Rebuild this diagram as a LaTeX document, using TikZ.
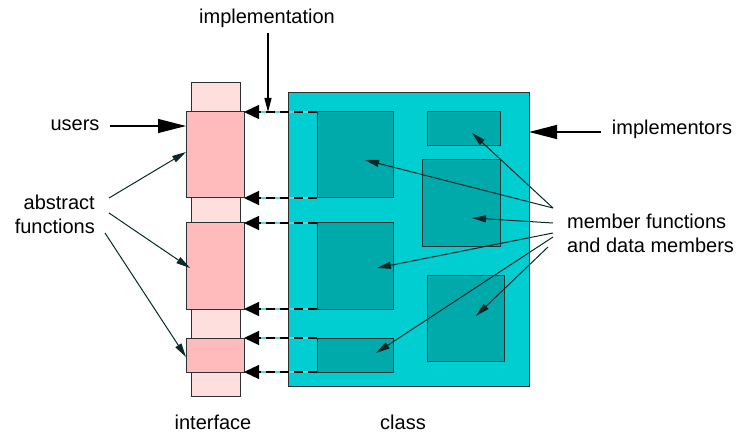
\documentclass[tikz,border=0pt]{standalone}
\usepackage{fontspec}
\setmainfont{Liberation Sans}
\usetikzlibrary{arrows.meta,calc}
\definecolor{stripcol}{RGB}{255,222,222}
\definecolor{pinkcol}{RGB}{255,187,187}
\definecolor{classcol}{RGB}{0,206,209}
\definecolor{innercol}{RGB}{0,170,170}
\definecolor{edgecol}{RGB}{40,50,50}
\definecolor{linecol}{RGB}{10,40,40}
\tikzset{
  box/.style={draw=edgecol,line width=1pt,inner sep=0pt,outer sep=0pt,anchor=north west},
  lbl/.style={font=\fontsize{20}{24}\selectfont,inner sep=0pt},
  dasharrow/.style={draw=black,line width=1.3pt,dash pattern=on 9pt off 5pt,-{Triangle[length=15pt,width=14pt]}},
  dashunder/.style={draw=classcol!70,line width=1.3pt},
  longarrow/.style={draw=black,line width=1.2pt,-{Triangle[length=28pt,width=14pt]}},
  thinarrow/.style={draw=linecol,line width=1pt,-{Triangle[length=14pt,width=7pt]}}
}
\begin{document}
\begin{tikzpicture}[x=1pt,y=-1pt]
\useasboundingbox (0,0) rectangle (740,433);
% interface
\node[box,fill=stripcol,minimum width=49pt,minimum height=313pt] (strip) at (191,83) {};
\node[box,fill=pinkcol,minimum width=58pt,minimum height=86pt] (P1) at (186,112) {};
\node[box,fill=pinkcol,minimum width=58pt,minimum height=86pt] (P2) at (186,223) {};
\node[box,fill=pinkcol,minimum width=58pt,minimum height=34pt] (P3) at (186,338) {};
% class
\node[box,fill=classcol,minimum width=241pt,minimum height=293pt] (class) at (288,93) {};
\node[box,fill=innercol,minimum width=76pt,minimum height=86pt] (A) at (317,112) {};
\node[box,fill=innercol,minimum width=76pt,minimum height=86pt] (B) at (317,223) {};
\node[box,fill=innercol,minimum width=76pt,minimum height=34pt] (C) at (317,338) {};
\node[box,fill=innercol,minimum width=73pt,minimum height=34pt] (D) at (427,112) {};
\node[box,fill=innercol,minimum width=78pt,minimum height=87pt] (E) at (422,160) {};
\node[box,fill=innercol,minimum width=77pt,minimum height=85pt] (F) at (427,276) {};
% dashed arrows
\foreach \s/\t in {A.north west/P1.north east, A.south west/P1.south east,
                   B.north west/P2.north east, B.south west/P2.south east,
                   C.north west/P3.north east, C.south west/P3.south east}{
  \draw[dashunder] (\s) -- ($(\t)+(15,0)$);
  \draw[dasharrow] (\s) -- (\t);
}
% labels
\node[lbl] (impl) at (267,18) {implementation};
\node[lbl] (users) at (75,125) {users};
\node[lbl] (implr) at (672,129) {implementors};
\node[lbl,align=right,anchor=east] (abs) at (95,214) {abstract\\functions};
\node[lbl,align=left,anchor=west] (mem) at (567,233) {member functions\\and data members};
\node[lbl] (iflbl) at (213,422) {interface};
\node[lbl] (cllbl) at (403,422) {class};
% top arrows
\coordinate (implstart) at ($(impl.south)+(1,5)$);
\draw[thinarrow,draw=black,line width=1.2pt] (implstart) -- (implstart |- P1.north);
\coordinate (usersstart) at ($(users.east)+(10,1)$);
\draw[longarrow] (usersstart) -- (usersstart -| P1.west);
\coordinate (implrstart) at ($(implr.west)+(-11,3)$);
\draw[longarrow] (implrstart) -- (implrstart -| class.east);
% abstract function arrows
\coordinate (a1) at (109,198);
\coordinate (a2) at (109,213);
\coordinate (a3) at (105,233);
\draw[thinarrow] (a1) -- ($(P1.north west)+(0,40)$);
\draw[thinarrow] (a2) -- ($(P2.north west)+(4,45)$);
\draw[thinarrow] (a3) -- ($(P3.north west)+(0,19)$);
% member arrows
\coordinate (m1) at (553,208);
\coordinate (m2) at (553,223);
\coordinate (m3) at (553,233);
\coordinate (m4) at (553,237);
\coordinate (m5) at (548,247);
\draw[thinarrow] (m1) -- ($(D.north west)+(45,21)$);
\draw[thinarrow] (m1) -- ($(A.north west)+(48,48)$);
\draw[thinarrow] (m2) -- ($(E.north west)+(50,58)$);
\draw[thinarrow] (m3) -- ($(B.north west)+(60,45)$);
\draw[thinarrow] (m4) -- ($(C.north west)+(59,15)$);
\draw[thinarrow] (m5) -- ($(F.north west)+(49,40)$);
\end{tikzpicture}
\end{document}
